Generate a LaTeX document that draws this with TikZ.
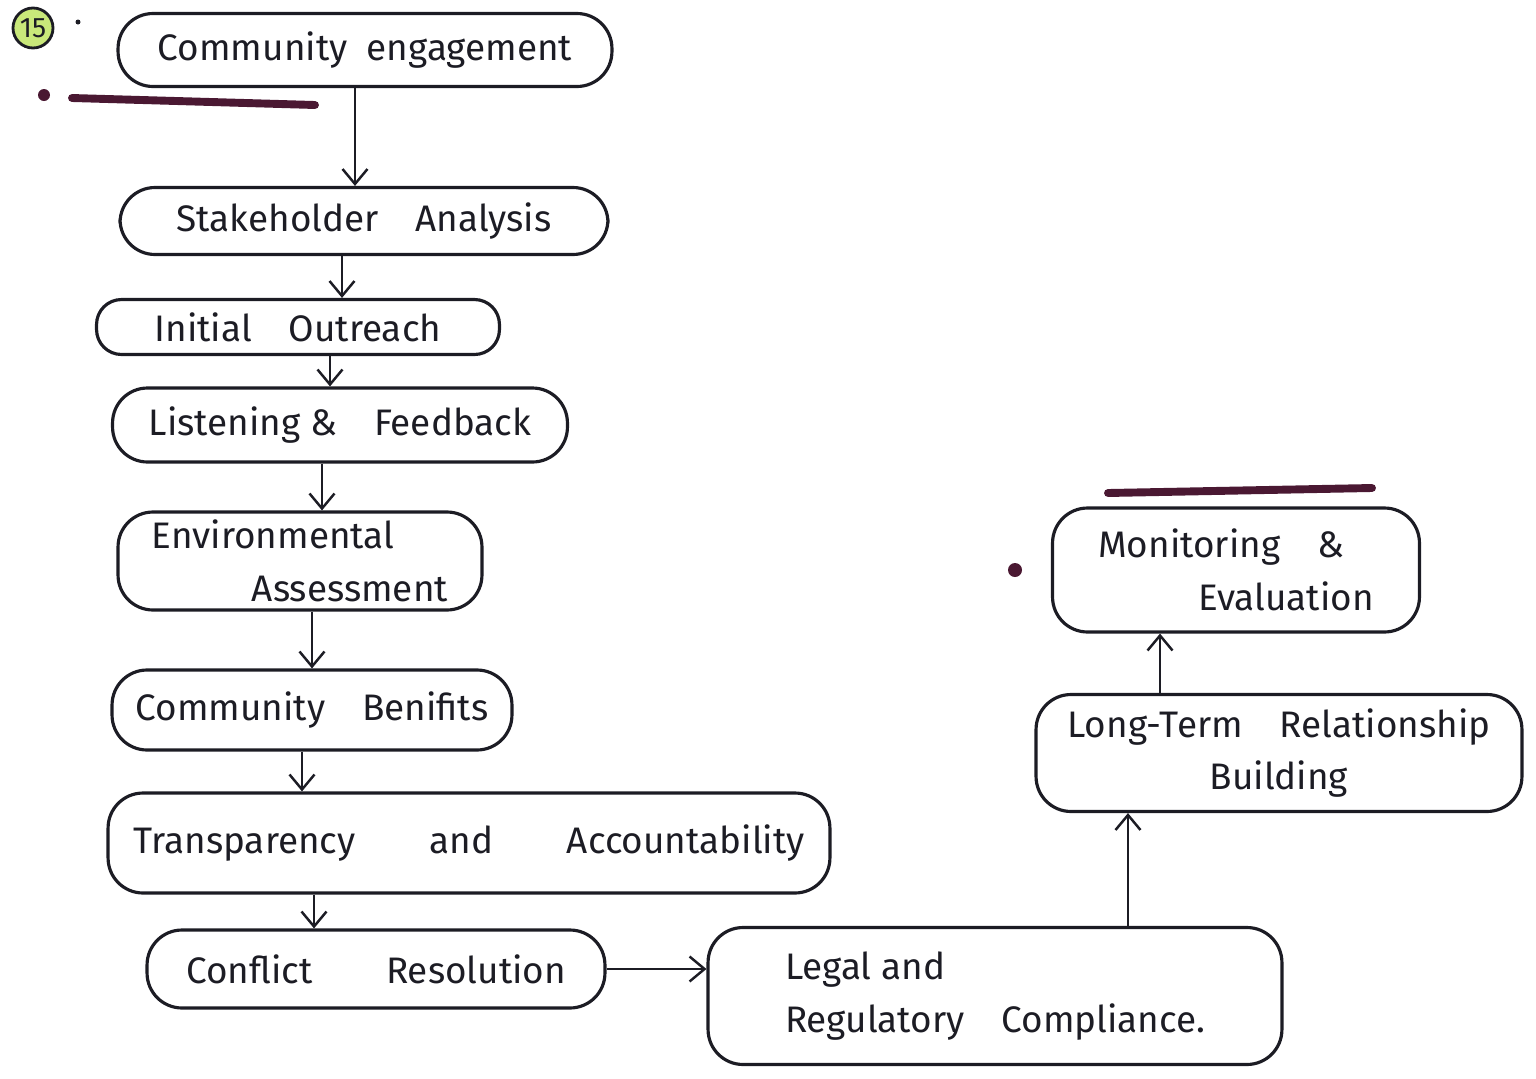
\documentclass[tikz,border=0pt]{standalone}
\usepackage{fontspec}
\setmainfont{Fira Sans}
\usetikzlibrary{positioning, arrows.meta, calc}
\definecolor{ink}{HTML}{1C1C24}
\definecolor{mcolor}{HTML}{4A1832}
\definecolor{hcolor}{HTML}{C9E87A}

\begin{document}
\begin{tikzpicture}[
    x=0.02cm, y=-0.02cm,
    box/.style={rectangle, draw=ink, rounded corners=0.7cm, line width=1.8pt, align=center, inner sep=0pt, text=ink, font=\fontsize{21}{30}\selectfont},
    arr/.style={-{Straight Barb[length=3mm, width=5mm, line width=1.4pt]}, line width=1.6pt, draw=ink},
    uline/.style={line width=4.5pt, draw=mcolor, line cap=round},
  ]
    \useasboundingbox (0,0) rectangle (1536,1079);

    % heading
    \node[circle, draw=ink, fill=hcolor, line width=1.6pt, minimum size=0.8cm, inner sep=0pt, text=ink, font=\fontsize{16}{16}\selectfont] (num) at (33,28) {15};
    \fill[ink] (78,22) circle (2.5);
    \fill[mcolor] (44,95) circle (6);
    \draw[uline] (72,98) -- (315,105);

    % left column
    \node[box, minimum width=9.88cm, minimum height=1.46cm] (eng) at (365,50) {Community\ \ engagement};
    \node[box, minimum width=9.76cm, minimum height=1.34cm] (sta) at (364,221) {Stakeholder\quad Analysis};
    \node[box, rounded corners=0.5cm, minimum width=8.06cm, minimum height=1.1cm] (out) at (298,327) {Initial\quad Outreach};
    \node[box, minimum width=9.1cm, minimum height=1.48cm] (lis) at (340,425) {Listening \&\quad Feedback};
    \node[box, minimum width=7.28cm, minimum height=1.96cm, align=left] (env) at (300,561) {Environmental\\\hspace{2cm}Assessment};
    \node[box, minimum width=8cm, minimum height=1.6cm] (ben) at (312,710) {Community\quad Benifits};
    \node[box, minimum width=14.44cm, minimum height=2cm] (tra) at (469,843) {Transparency\qquad and\qquad Accountability};
    \node[box, minimum width=9.16cm, minimum height=1.56cm] (con) at (376,969) {Conflict\qquad Resolution};

    % right column
    \node[box, minimum width=11.48cm, minimum height=2.74cm, align=left] (leg) at (995,996) {Legal and\\Regulatory\quad Compliance.};
    \node[box, minimum width=9.72cm, minimum height=2.34cm] (ltr) at (1279,753) {Long-Term\quad Relationship\\Building};
    \node[box, minimum width=7.34cm, minimum height=2.48cm, align=left] (mon) at (1236,570) {Monitoring\quad \&\\\hspace{2cm}Evaluation};
    \fill[mcolor] (1015,570) circle (7);
    \draw[uline] (1108,493) -- (1372,488);

    % connectors
    \draw[arr] ([xshift=-0.2cm]eng.south) -- ([xshift=-0.2cm]eng.south |- sta.north);
    \draw[arr] ([xshift=-0.44cm]sta.south) -- ([xshift=-0.44cm]sta.south |- out.north);
    \draw[arr] ([xshift=0.64cm]out.south) -- ([xshift=0.64cm]out.south |- lis.north);
    \draw[arr] ([xshift=-0.36cm]lis.south) -- ([xshift=-0.36cm]lis.south |- env.north);
    \draw[arr] ([xshift=0.24cm]env.south) -- ([xshift=0.24cm]env.south |- ben.north);
    \draw[arr] ([xshift=-0.2cm]ben.south) -- ([xshift=-0.2cm]ben.south |- tra.north);
    \draw[arr] ([xshift=-1.24cm]con.north |- tra.south) -- ([xshift=-1.24cm]con.north);
    \draw[arr] (con.east) -- (con.east -| leg.west);
    \draw[arr] ([xshift=2.66cm]leg.north) -- ([xshift=2.66cm]leg.north |- ltr.south);
    \draw[arr] ([xshift=-2.38cm]ltr.north) -- ([xshift=-2.38cm]ltr.north |- mon.south);
  \end{tikzpicture}
\end{document}
